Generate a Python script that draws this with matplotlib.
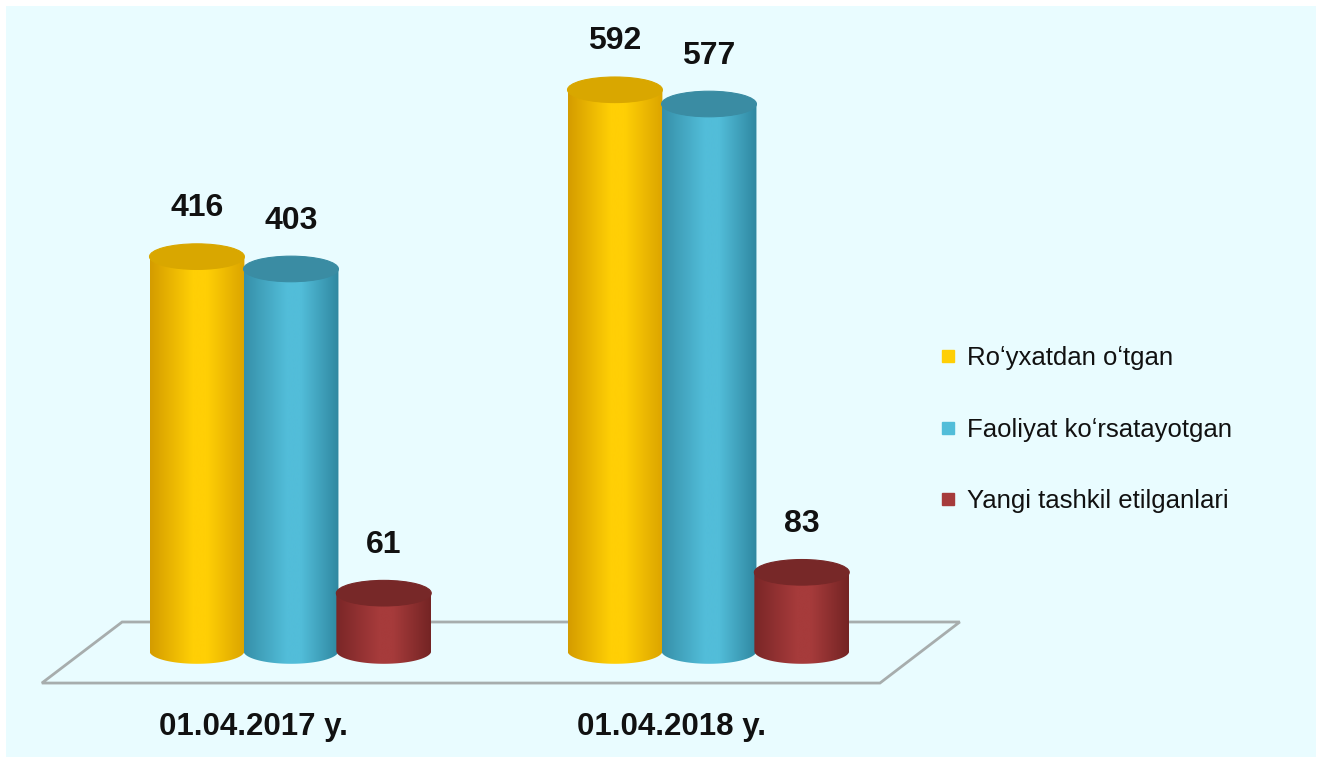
import numpy as np
import matplotlib
matplotlib.use("Agg")
import matplotlib.pyplot as plt
from matplotlib.patches import Ellipse, PathPatch, Polygon, Rectangle
from matplotlib.path import Path
from matplotlib.colors import LinearSegmentedColormap
from matplotlib.lines import Line2D

# Donnees
categories = ["01.04.2017 y.", "01.04.2018 y."]
series = ["Roʻyxatdan oʻtgan", "Faoliyat koʻrsatayotgan", "Yangi tashkil etilganlari"]
registered = [416, 592]
active = [403, 577]
new_created = [61, 83]
values = [registered, active, new_created]

# Styles: (bord gauche, centre, bord droit, dessus)
styles = [
    ("#d49c00", "#ffcf05", "#dba400", "#d9a700"),
    ("#3690a9", "#52bdd9", "#2f87a0", "#3a8ca3"),
    ("#7a2627", "#a63b3b", "#742424", "#772828"),
]

W, H = 1321, 762
fig = plt.figure(figsize=(W / 100, H / 100), dpi=100)
fig.patch.set_facecolor("white")
fig.add_artist(Rectangle((6 / W, 5 / H), 1310 / W, 751 / H, transform=fig.transFigure,
                         facecolor="#e9fcff", edgecolor="none", zorder=0))

ax = fig.add_axes([0, 0, 1, 1])
ax.set_facecolor("none")
px_per_unit = 0.948
y0_px = H - 651
x0_px, group_px = 291, 418
ax.axis("off")

# Sol
floor = Polygon([(-0.596, -33.8), (1.409, -33.8), (1.600, 30.6), (-0.404, 30.6)],
                closed=True, facecolor="none", edgecolor="#a7adad", linewidth=2, zorder=1)
ax.add_patch(floor)

bw = 0.227
offsets = [-0.225, 0.0, 0.222]
eh = 27.0

for s, (vals, st) in enumerate(zip(values, styles)):
    cmap = LinearSegmentedColormap.from_list("c%d" % s, [(0, st[0]), (0.45, st[1]), (0.6, st[1]), (1, st[2])])
    grad = np.linspace(0, 1, 256).reshape(1, -1)
    for i, v in enumerate(vals):
        c = i + offsets[s]
        z = 2 + s * 2 + i * 10
        left, right = c - bw / 2, c + bw / 2
        t = np.linspace(np.pi, 2 * np.pi, 60)
        arc = np.column_stack([c + bw / 2 * np.cos(t), eh / 2 * np.sin(t)])
        pts = np.vstack([[left, v], arc, [right, v], [left, v]])
        codes = [Path.MOVETO] + [Path.LINETO] * (len(pts) - 2) + [Path.CLOSEPOLY]
        body = PathPatch(Path(pts, codes), facecolor="none", edgecolor="none", zorder=z)
        ax.add_patch(body)
        im = ax.imshow(grad, cmap=cmap, extent=(left, right, -eh / 2, v), aspect="auto",
                       zorder=z, interpolation="bilinear")
        im.set_clip_path(body)
        ax.add_patch(Ellipse((c, v), bw, eh, facecolor=st[3], edgecolor=st[3],
                             linewidth=0.8, zorder=z + 1))
        ax.text(c, v + 51, str(v), ha="center", va="center", fontsize=23,
                fontweight="bold", family="Liberation Sans", color="#111111", zorder=30)

ax.set_xlim(-x0_px / group_px, (W - x0_px) / group_px)
ax.set_ylim(-y0_px / px_per_unit, (H - y0_px) / px_per_unit)

for i, cat in enumerate(categories):
    ax.text(i - 0.09, -80, cat, ha="center", va="center", fontsize=22.5,
            fontweight="bold", family="Liberation Sans", color="#111111")

handles = [Line2D([], [], marker="s", linestyle="none", markersize=8,
                  markerfacecolor=st[1], markeredgecolor=st[1]) for st in styles]
leg = fig.legend(handles, series, loc="upper left", bbox_to_anchor=(940 / W, 1 - 346 / H),
                 frameon=False, borderaxespad=0, borderpad=0, handlelength=0.6,
                 handletextpad=0.45, labelspacing=1.85,
                 prop={"family": "Liberation Sans", "size": 18.5})
for t in leg.get_texts():
    t.set_color("#111111")

fig.savefig("out.png", dpi=100, facecolor=fig.get_facecolor())
